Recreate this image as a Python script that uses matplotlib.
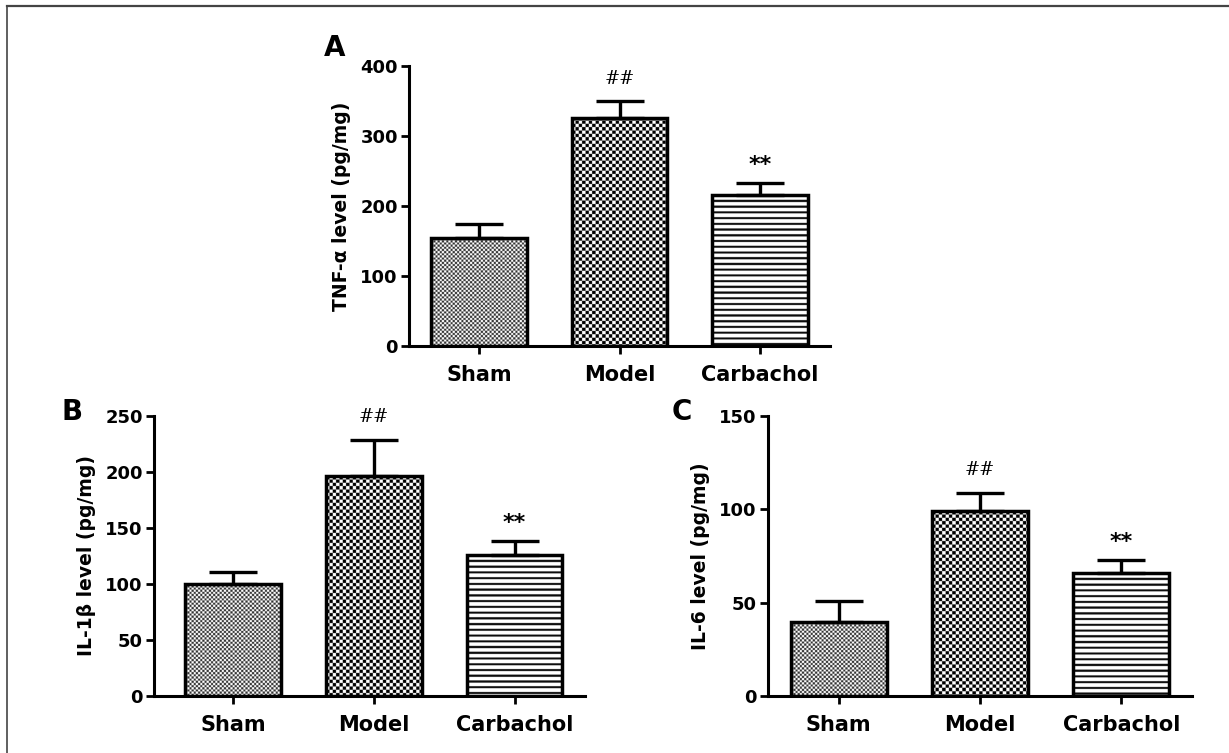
import numpy as np
import matplotlib
matplotlib.use("Agg")
import matplotlib.pyplot as plt
from matplotlib.lines import Line2D

plt.rcParams['font.family'] = ['DejaVu Sans']
plt.rcParams['font.weight'] = 'bold'

# data
groups = ["Sham", "Model", "Carbachol"]
tnf_mean = [154, 326, 216]
tnf_err = [20, 24, 17]
il1b_mean = [100, 196, 126]
il1b_err = [11, 33, 12]
il6_mean = [39.6, 99, 66]
il6_err = [11.5, 10, 7]
marks = ["", "##", "**"]

patterns = ["fine", "coarse", "stripes"]
SS = 4  # supersampling of the fill patterns


def pattern_img(kind, wpx, hpx):
    nx = max(1, int(round(wpx * SS)))
    ny = max(1, int(round(hpx * SS)))
    jj, ii = np.meshgrid(np.arange(nx) / SS, np.arange(ny) / SS)
    if kind == "fine":
        c = 2.15
        img = ((np.floor(ii / c) + np.floor(jj / c)) % 2).astype(float)
        img = 0.2 + 0.8 * img
    elif kind == "coarse":
        c = 3.33
        img = ((np.floor(ii / c) + np.floor(jj / c)) % 2).astype(float)
    else:
        img = np.where((ii % 5.7) < 2.1, 0.05, 1.0)
    return img


def panel(ax, means, errs, ymax, ystep, ylabel, xlim):
    x = np.arange(len(groups))
    ax.set_xlim(*xlim)
    ax.set_ylim(0, ymax)
    bars = ax.bar(x, means, width=0.68, color="white", edgecolor="none", zorder=1)
    fig.canvas.draw()
    for b, kind in zip(bars, patterns):
        x0, y0 = b.get_x(), b.get_y()
        w, h = b.get_width(), b.get_height()
        p0 = ax.transData.transform((x0, y0))
        p1 = ax.transData.transform((x0 + w, y0 + h))
        img = pattern_img(kind, p1[0] - p0[0], p1[1] - p0[1])
        im = ax.imshow(img, cmap="gray", vmin=0, vmax=1, extent=(x0, x0 + w, y0, y0 + h),
                       origin="upper", interpolation="antialiased", aspect="auto", zorder=2)
        im.set_clip_path(b)
    ax.bar(x, means, width=0.68, fill=False, edgecolor="black", linewidth=2.5, zorder=4)
    ax.errorbar(x, means, yerr=[np.zeros(len(errs)), errs], fmt="none", ecolor="black",
                elinewidth=2.4, capsize=17, capthick=2.4, zorder=3)
    tops = np.array(means) + np.array(errs)
    for xi, t, m in zip(x, tops, marks):
        if m == "##":
            ax.annotate(m, (xi, t), xytext=(0, 16), textcoords="offset points",
                        ha="center", va="center", fontsize=13, fontweight="normal",
                        family="DejaVu Serif")
        elif m:
            ax.annotate(m, (xi, t), xytext=(0, 13), textcoords="offset points",
                        ha="center", va="center", fontsize=16, fontweight="bold")
    ax.set_xlim(*xlim)
    ax.set_ylim(0, ymax)
    ax.set_yticks(np.arange(0, ymax + 1, ystep))
    ax.set_xticks(x)
    ax.set_xticklabels(groups, fontsize=15, fontweight="bold")
    ax.tick_params(axis="y", labelsize=13, width=2, length=6, pad=2)
    ax.tick_params(axis="x", width=2, length=6, pad=8)
    for lab in ax.get_yticklabels():
        lab.set_fontweight("bold")
    ax.spines["top"].set_visible(False)
    ax.spines["right"].set_visible(False)
    ax.spines["left"].set_linewidth(2.2)
    ax.spines["bottom"].set_linewidth(2.2)
    ax.set_ylabel(ylabel, fontsize=13.5, fontweight="bold", labelpad=7)
    return ax


fig = plt.figure(figsize=(12.29, 7.53), dpi=100)
W, H = 1229, 753


def box(l, r, t, b):
    return [l / W, 1 - b / H, (r - l) / W, (b - t) / H]


axA = fig.add_axes(box(409, 830, 66, 346))
axB = fig.add_axes(box(154, 585, 416, 696))
axC = fig.add_axes(box(768, 1192, 416, 696))

panel(axA, tnf_mean, tnf_err, 400, 100, "TNF-α level (pg/mg)", (-0.5, 2.5))
panel(axB, il1b_mean, il1b_err, 250, 50, "IL-1β level (pg/mg)", (-0.56, 2.5))
panel(axC, il6_mean, il6_err, 150, 50, "IL-6 level (pg/mg)", (-0.5, 2.5))

fig.text(335 / W, 1 - 48 / H, "A", fontsize=20, fontweight="bold", ha="center", va="center")
fig.text(72 / W, 1 - 412 / H, "B", fontsize=20, fontweight="bold", ha="center", va="center")
fig.text(682 / W, 1 - 412 / H, "C", fontsize=20, fontweight="bold", ha="center", va="center")

# frame lines
fig.add_artist(Line2D([7 / W, 1], [1 - 6 / H, 1 - 6 / H], transform=fig.transFigure,
                      color="#444444", linewidth=1.6))
fig.add_artist(Line2D([7 / W, 7 / W], [0, 1 - 6 / H], transform=fig.transFigure,
                      color="#444444", linewidth=1.2))

fig.savefig("out.png", dpi=100)
